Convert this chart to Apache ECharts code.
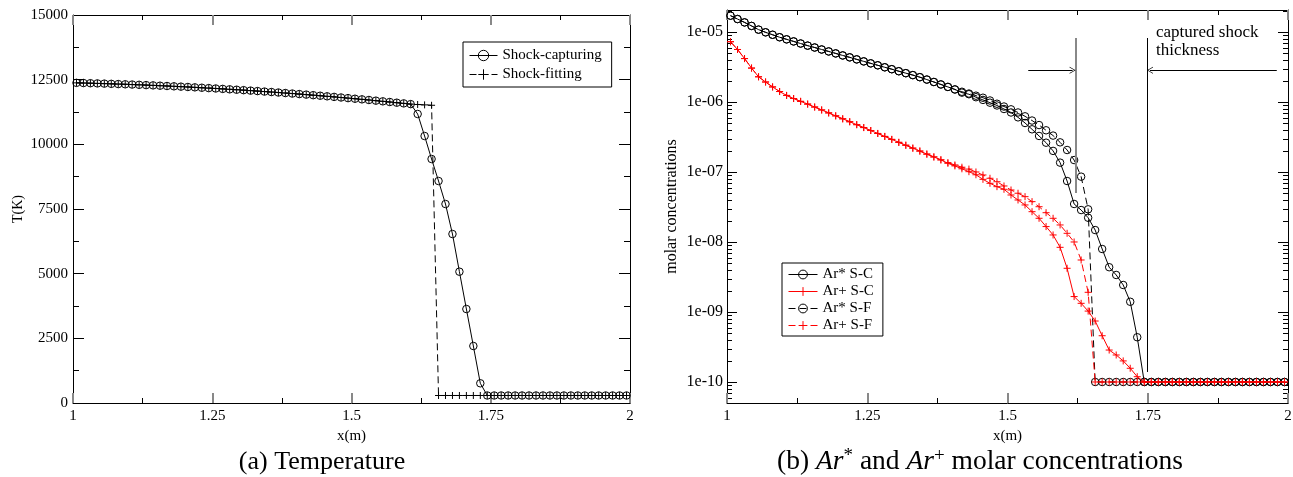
<!DOCTYPE html>
<html><head><meta charset="utf-8">
<script src="https://cdn.jsdelivr.net/npm/echarts@6/dist/echarts.min.js"></script>
<style>html,body{margin:0;padding:0;background:#fff}#c{width:1293px;height:477px}</style>
</head><body><div id="c"></div>
<script>
// ---------- data ----------
const xGrid = [
1.00625,1.01875,1.03125,1.04375,1.05625,1.06875,1.08125,1.09375,1.10625,1.11875,
1.13125,1.14375,1.15625,1.16875,1.18125,1.19375,1.20625,1.21875,1.23125,1.24375,
1.25625,1.26875,1.28125,1.29375,1.30625,1.31875,1.33125,1.34375,1.35625,1.36875,
1.38125,1.39375,1.40625,1.41875,1.43125,1.44375,1.45625,1.46875,1.48125,1.49375,
1.50625,1.51875,1.53125,1.54375,1.55625,1.56875,1.58125,1.59375,1.60625,1.61875,
1.63125,1.64375,1.65625,1.66875,1.68125,1.69375,1.70625,1.71875,1.73125,1.74375,
1.75625,1.76875,1.78125,1.79375,1.80625,1.81875,1.83125,1.84375,1.85625,1.86875,
1.88125,1.89375,1.90625,1.91875,1.93125,1.94375,1.95625,1.96875,1.98125,1.99375];

const tempCapturing = [
12377,12370,12363,12355,12347,12339,12330,12321,12311,12301,
12290,12279,12267,12255,12243,12230,12217,12203,12188,12174,
12159,12143,12127,12111,12094,12076,12059,12040,12022,12003,
11983,11963,11943,11922,11900,11879,11856,11834,11811,11787,
11763,11739,11714,11688,11662,11636,11610,11583,11555,11173,
10322,9433,8582,7693,6533,5076,3634,2204,762,290,
290,290,290,290,290,290,290,290,290,290,
290,290,290,290,290,290,290,290,290,290];

const tempFitting = [
12377,12370,12363,12355,12347,12339,12330,12321,12311,12301,
12290,12279,12267,12255,12243,12230,12217,12203,12188,12174,
12159,12143,12127,12111,12094,12076,12059,12040,12022,12003,
11983,11963,11943,11922,11900,11879,11856,11834,11811,11787,
11763,11739,11714,11688,11662,11636,11610,11583,11555,11540,
11525,11510,290,290,290,290,290,290,290,290,
290,290,290,290,290,290,290,290,290,290,
290,290,290,290,290,290,290,290,290,290];

const arStarCapturing = [
1.71e-5,1.53e-5,1.37e-5,1.22e-5,1.08e-5,9.89e-6,9.12e-6,8.41e-6,7.85e-6,7.33e-6,
6.84e-6,6.38e-6,6.00e-6,5.62e-6,5.27e-6,4.94e-6,4.62e-6,4.34e-6,4.06e-6,3.80e-6,
3.56e-6,3.34e-6,3.13e-6,2.94e-6,2.75e-6,2.58e-6,2.42e-6,2.26e-6,2.09e-6,1.93e-6,
1.78e-6,1.64e-6,1.51e-6,1.36e-6,1.29e-6,1.17e-6,1.07e-6,9.77e-7,8.91e-7,7.94e-7,
7.08e-7,6.03e-7,5.01e-7,4.07e-7,3.27e-7,2.62e-7,2.00e-7,1.36e-7,7.43e-8,3.49e-8,
2.86e-8,2.22e-8,1.48e-8,7.94e-9,4.36e-9,3.38e-9,2.43e-9,1.40e-9,4.36e-10,1e-10,
1e-10,1e-10,1e-10,1e-10,1e-10,1e-10,1e-10,1e-10,1e-10,1e-10,
1e-10,1e-10,1e-10,1e-10,1e-10,1e-10,1e-10,1e-10,1e-10,1e-10];

const arPlusCapturing = [
7.26e-6,5.62e-6,4.17e-6,3.05e-6,2.29e-6,1.93e-6,1.64e-6,1.41e-6,1.24e-6,1.12e-6,
1.02e-6,9.33e-7,8.47e-7,7.69e-7,6.98e-7,6.34e-7,5.75e-7,5.22e-7,4.74e-7,4.31e-7,
3.91e-7,3.55e-7,3.22e-7,2.92e-7,2.65e-7,2.41e-7,2.19e-7,1.99e-7,1.80e-7,1.64e-7,
1.49e-7,1.33e-7,1.22e-7,1.11e-7,1.01e-7,9.12e-8,7.85e-8,6.89e-8,6.17e-8,5.66e-8,
4.69e-8,3.98e-8,3.38e-8,2.71e-8,2.18e-8,1.66e-8,1.26e-8,8.39e-9,4.21e-9,1.66e-9,
1.33e-9,1.03e-9,7.43e-10,4.58e-10,2.86e-10,2.43e-10,2.00e-10,1.57e-10,1.19e-10,1e-10,
1e-10,1e-10,1e-10,1e-10,1e-10,1e-10,1e-10,1e-10,1e-10,1e-10,
1e-10,1e-10,1e-10,1e-10,1e-10,1e-10,1e-10,1e-10,1e-10,1e-10];

const arStarFitting = [
1.71e-5,1.53e-5,1.37e-5,1.22e-5,1.08e-5,9.89e-6,9.12e-6,8.41e-6,7.85e-6,7.33e-6,
6.84e-6,6.38e-6,6.00e-6,5.62e-6,5.27e-6,4.94e-6,4.62e-6,4.34e-6,4.06e-6,3.80e-6,
3.56e-6,3.34e-6,3.13e-6,2.94e-6,2.75e-6,2.58e-6,2.42e-6,2.26e-6,2.09e-6,1.93e-6,
1.78e-6,1.64e-6,1.51e-6,1.40e-6,1.32e-6,1.23e-6,1.15e-6,1.05e-6,9.44e-7,8.61e-7,
7.85e-7,7.08e-7,6.24e-7,5.43e-7,4.68e-7,3.94e-7,3.31e-7,2.65e-7,2.06e-7,1.48e-7,
8.57e-8,2.93e-8,1e-10,1e-10,1e-10,1e-10,1e-10,1e-10,1e-10,1e-10,
1e-10,1e-10,1e-10,1e-10,1e-10,1e-10,1e-10,1e-10,1e-10,1e-10,
1e-10,1e-10,1e-10,1e-10,1e-10,1e-10,1e-10,1e-10,1e-10,1e-10];

const arPlusFitting = [
7.26e-6,5.62e-6,4.17e-6,3.05e-6,2.29e-6,1.93e-6,1.64e-6,1.41e-6,1.24e-6,1.12e-6,
1.02e-6,9.33e-7,8.47e-7,7.69e-7,6.98e-7,6.34e-7,5.75e-7,5.22e-7,4.74e-7,4.31e-7,
3.91e-7,3.55e-7,3.22e-7,2.92e-7,2.65e-7,2.41e-7,2.19e-7,1.99e-7,1.80e-7,1.64e-7,
1.49e-7,1.36e-7,1.26e-7,1.17e-7,1.10e-7,1.00e-7,9.06e-8,8.13e-8,7.26e-8,6.31e-8,
5.53e-8,4.97e-8,4.44e-8,3.77e-8,3.19e-8,2.62e-8,2.18e-8,1.75e-8,1.33e-8,1.00e-8,
5.53e-9,1.91e-9,1e-10,1e-10,1e-10,1e-10,1e-10,1e-10,1e-10,1e-10,
1e-10,1e-10,1e-10,1e-10,1e-10,1e-10,1e-10,1e-10,1e-10,1e-10,
1e-10,1e-10,1e-10,1e-10,1e-10,1e-10,1e-10,1e-10,1e-10,1e-10];

const tempNames = ['Shock-capturing', 'Shock-fitting'];
const concNames = ['Ar* S-C', 'Ar+ S-C', 'Ar* S-F', 'Ar+ S-F'];
const captions = ['(a) Temperature', '(b) {it|Ar}{sup|*} and {it|Ar}{sup|+} molar concentrations'];
const annotationText = 'captured shock\nthickness';

// annotation geometry (data coordinates)
const capturedStartX = 1.622, capturedEndX = 1.749;
const lineTopY = 8.2e-6, grayBottomY = 5.0e-8, blackBottomY = 1.39e-10;
const arrowY = 2.84e-6;
const leftArrow = [1.537, 1.616], rightArrow = [1.98, 1.754];

// axis ranges
const xMin = 1, xMax = 2, xStep = 0.25;
const tMin = 0, tMax = 15000, tStep = 2500;
const cMin = 5.01e-11, cMax = 2.06e-5;

// ---------- chart ----------
const FONT = "'Liberation Serif', 'DejaVu Serif', serif";
const pairs = ys => xGrid.map((x, i) => [x, ys[i]]);
const plusSym = 'path://M5,0L5,10M0,5L10,5';
const chevron = 'path://M0,10L5,0L10,10L9,10L5,2L1,10Z';

function xAx(grid, top, name) {
  return {
    type: 'value', gridIndex: grid, position: top ? 'top' : 'bottom',
    min: xMin, max: xMax, interval: xStep,
    name: top ? '' : name, nameLocation: 'middle', nameGap: 20,
    nameTextStyle: { fontFamily: FONT, fontSize: 15, color: '#000' },
    axisLine: { show: true, onZero: false, lineStyle: { color: '#000', width: 1 } },
    axisTick: { show: true, inside: true, length: 10, lineStyle: { color: '#888', width: 2 } },
    minorTick: { show: true, splitNumber: 2, length: 5, lineStyle: { color: '#000', width: 1 } },
    axisLabel: { show: !top, fontFamily: FONT, fontSize: 15, color: '#000', margin: 6,
      showMinLabel: true, showMaxLabel: true, formatter: v => String(v) },
    splitLine: { show: false }, minorSplitLine: { show: false }
  };
}
function tAx(right) {
  return {
    type: 'value', gridIndex: 0, position: right ? 'right' : 'left',
    min: tMin, max: tMax, interval: tStep,
    name: right ? '' : 'T(K)', nameLocation: 'middle', nameRotate: 90, nameGap: 48,
    nameTextStyle: { fontFamily: FONT, fontSize: 14, color: '#000' },
    axisLine: { show: true, onZero: false, lineStyle: { color: '#000', width: 1 } },
    axisTick: { show: true, inside: true, length: 11, lineStyle: { color: '#000', width: 1 } },
    minorTick: { show: true, splitNumber: 2, length: 6, lineStyle: { color: '#000', width: 1 } },
    axisLabel: { show: !right, fontFamily: FONT, fontSize: 15, color: '#000', margin: 5,
      showMinLabel: true, showMaxLabel: true, formatter: v => String(v) },
    splitLine: { show: false }
  };
}
function cAx(right) {
  return {
    type: 'log', logBase: 10, gridIndex: 1, position: right ? 'right' : 'left',
    min: cMin, max: cMax,
    name: right ? '' : 'molar concentrations', nameLocation: 'middle', nameRotate: 90, nameGap: 47,
    nameTextStyle: { fontFamily: FONT, fontSize: 16, color: '#000' },
    axisLine: { show: true, onZero: false, lineStyle: { color: '#000', width: 1 } },
    axisTick: { show: true, inside: true, length: 10, lineStyle: { color: '#000', width: 1 } },
    minorTick: { show: false },
    axisLabel: { show: !right, fontFamily: FONT, fontSize: 16, color: '#000', margin: 4,
      formatter: v => {
        const e = Math.log10(v), r = Math.round(e);
        if (Math.abs(e - r) > 1e-6) return '';
        return '1e' + (r < 0 ? '-' : '+') + String(Math.abs(r)).padStart(2, '0');
      } },
    splitLine: { show: false }
  };
}
function lineSeries(name, xi, yi, ys, color, dashed, circle, extra) {
  return Object.assign({
    name, type: 'line', xAxisIndex: xi, yAxisIndex: yi, data: pairs(ys),
    symbol: circle ? 'circle' : plusSym, symbolSize: circle ? 7.5 : 7,
    showAllSymbol: true, animation: false, silent: true, z: circle ? 2 : 3,
    itemStyle: circle ? { color: 'rgba(0,0,0,0)', borderColor: color, borderWidth: 1 }
                      : { color: color, borderColor: color, borderWidth: 1 },
    lineStyle: { color: color, width: 1, type: dashed ? [7, 4] : 'solid' },
    emphasis: { disabled: true }
  }, extra || {});
}
function legendBox(names, left, top, iw, ih, gap, pad) {
  return {
    data: names, left, top, orient: 'vertical', selectedMode: false,
    itemWidth: iw, itemHeight: ih, itemGap: gap, padding: pad,
    borderColor: '#000', borderWidth: 1, backgroundColor: '#fff',
    lineStyle: { width: 1 }, itemStyle: { borderWidth: 1 },
    textStyle: { fontFamily: FONT, fontSize: 15, color: '#000', lineHeight: ih }
  };
}

const markLines = {
  silent: true, animation: false, symbol: ['none', 'none'],
  label: { show: false }, emphasis: { disabled: true },
  lineStyle: { color: '#000', width: 1, type: 'solid' },
  data: [
    [{ coord: [capturedStartX, grayBottomY], lineStyle: { color: '#888', width: 2, type: 'solid' } },
     { coord: [capturedStartX, lineTopY] }],
    [{ coord: [capturedEndX, blackBottomY], lineStyle: { color: '#000', width: 1, type: 'solid' } },
     { coord: [capturedEndX, lineTopY] }],
    [{ coord: [leftArrow[0], arrowY], symbol: 'none' },
     { coord: [leftArrow[1], arrowY], symbol: chevron, symbolSize: [7, 6] }],
    [{ coord: [rightArrow[0], arrowY], symbol: 'none' },
     { coord: [rightArrow[1], arrowY], symbol: chevron, symbolSize: [7, 6] }]
  ]
};

const option = {
  animation: false,
  backgroundColor: '#fff',
  textStyle: { fontFamily: FONT },
  grid: [
    { left: 73, right: 663, top: 15, bottom: 74, outerBoundsMode: 'none', containLabel: false },
    { left: 727, right: 5, top: 10, bottom: 74, outerBoundsMode: 'none', containLabel: false }
  ],
  xAxis: [xAx(0, false, 'x(m)'), xAx(0, true), xAx(1, false, 'x(m)'), xAx(1, true)],
  yAxis: [tAx(false), tAx(true), cAx(false), cAx(true)],
  legend: [
    legendBox(tempNames, 463, 42, 28, 13, 4, [6, 10, 5, 6]),
    legendBox(concNames, 782, 263, 29, 11, 2, [4, 9, 3, 6])
  ],
  series: [
    lineSeries(tempNames[0], 0, 0, tempCapturing, '#000', false, true),
    lineSeries(tempNames[1], 0, 0, tempFitting, '#000', true, false),
    lineSeries(concNames[0], 2, 2, arStarCapturing, '#000', false, true, { markLine: markLines }),
    lineSeries(concNames[1], 2, 2, arPlusCapturing, '#ff0000', false, false),
    lineSeries(concNames[2], 2, 2, arStarFitting, '#000', true, true),
    lineSeries(concNames[3], 2, 2, arPlusFitting, '#ff0000', true, false)
  ]
};

const chart = echarts.init(document.getElementById('c'), null, { renderer: 'canvas' });
chart.setOption(option);

// log-axis minor ticks (2..9 per decade), positioned through the axis scale
const els = [];
const xl = chart.convertToPixel({ xAxisIndex: 2 }, xMin);
const xr = chart.convertToPixel({ xAxisIndex: 2 }, xMax);
for (let d = -11; d <= -5; d++) {
  for (let m = 2; m <= 9; m++) {
    const v = m * Math.pow(10, d);
    if (v <= cMin || v >= cMax) continue;
    const y = Math.round(chart.convertToPixel({ yAxisIndex: 2 }, v)) + 0.5;
    els.push({ type: 'line', silent: true, shape: { x1: xl, y1: y, x2: xl + 5, y2: y }, style: { stroke: '#000', lineWidth: 1 } });
    els.push({ type: 'line', silent: true, shape: { x1: xr - 5, y1: y, x2: xr, y2: y }, style: { stroke: '#000', lineWidth: 1 } });
  }
}
els.push({ type: 'text', silent: true, x: 1156, y: 24,
  style: { text: annotationText, fontFamily: FONT, fontSize: 17, lineHeight: 18, fill: '#000' } });
els.push({ type: 'text', silent: true, x: 322, y: 462,
  style: { text: captions[0], fontFamily: FONT, fontSize: 26, fill: '#000',
           align: 'center', textAlign: 'center', verticalAlign: 'middle', textVerticalAlign: 'middle' } });
els.push({ type: 'text', silent: true, x: 980, y: 462,
  style: { text: captions[1], fontFamily: FONT, fontSize: 27.5, lineHeight: 31, fill: '#000',
           align: 'center', textAlign: 'center', verticalAlign: 'middle', textVerticalAlign: 'middle',
           rich: {
             it: { fontFamily: FONT, fontSize: 27.5, fontStyle: 'italic', lineHeight: 31, fill: '#000' },
             sup: { fontFamily: FONT, fontSize: 19, lineHeight: 19, verticalAlign: 'top', fill: '#000' }
           } } });
chart.setOption({ graphic: { elements: els } });
</script></body></html>
